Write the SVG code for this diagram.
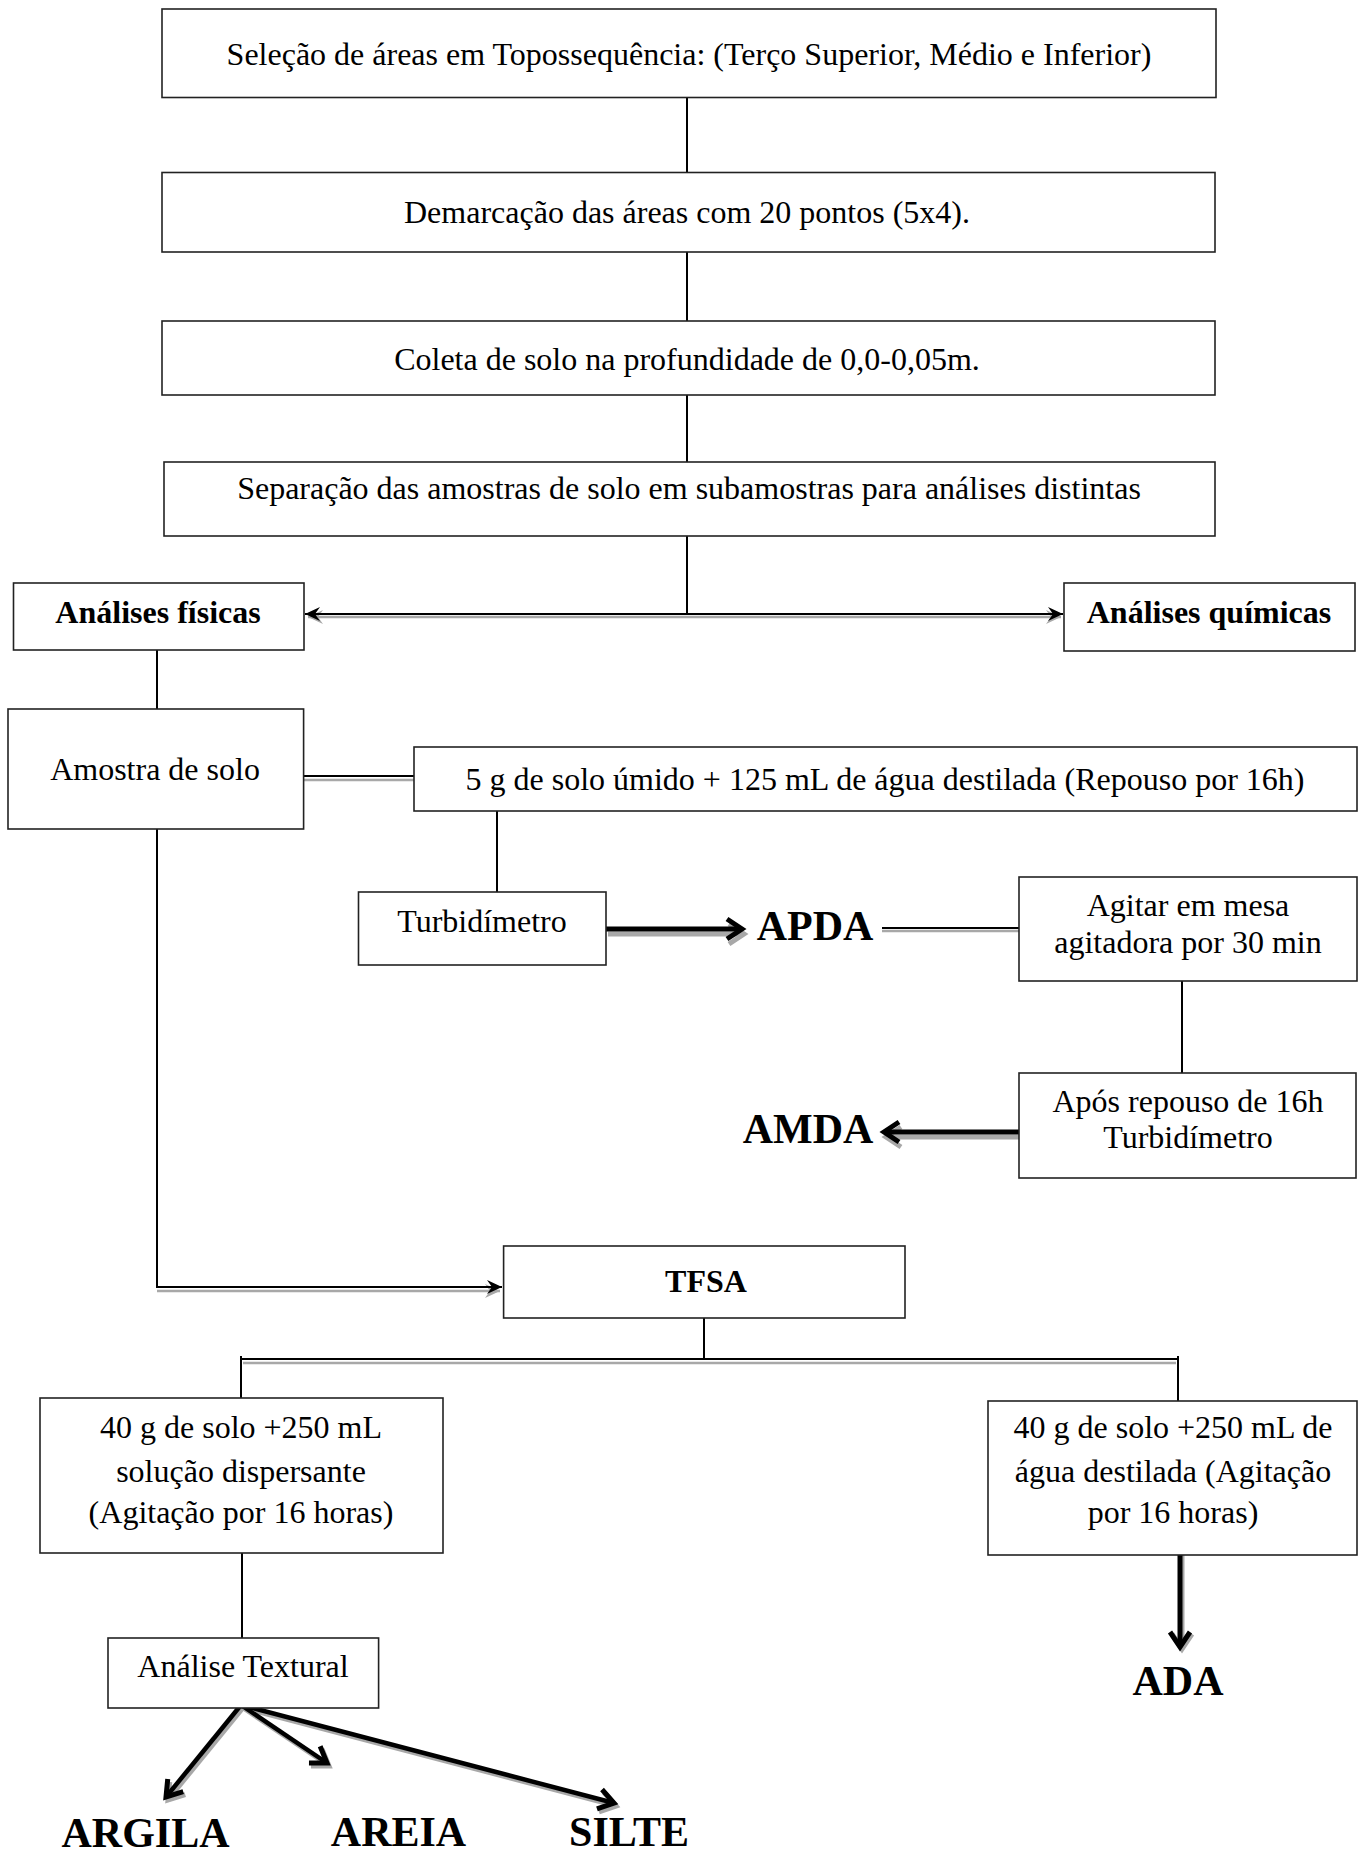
<svg xmlns="http://www.w3.org/2000/svg" width="1362" height="1854" viewBox="0 0 1362 1854">
<defs>
<style>
.box{fill:#fff;stroke:#222;stroke-width:1.6}
.t{font-family:"Liberation Serif","Times New Roman",serif;font-size:32px;fill:#000;text-anchor:middle}
.b{font-weight:bold}
.big{font-size:42px;font-weight:bold}
.ln{stroke:#000;stroke-width:2;fill:none}
.sh{stroke:#a8a8a8;stroke-width:2.5;fill:none}
.thick{stroke:#000;stroke-width:5;fill:none}
.thicksh{stroke:#a8a8a8;stroke-width:5;fill:none}
.diag{stroke:#000;stroke-width:4.5;fill:none}
.diagsh{stroke:#a8a8a8;stroke-width:4.5;fill:none}
</style>
<marker id="ah" markerUnits="userSpaceOnUse" markerWidth="16" markerHeight="16" viewBox="0 0 16 16" refX="15" refY="8" orient="auto">
<path d="M0,1 L15,8 L0,15 L5,8 z" fill="#000"/>
</marker>
<marker id="ahsh" markerUnits="userSpaceOnUse" markerWidth="16" markerHeight="16" viewBox="0 0 16 16" refX="15" refY="8" orient="auto">
<path d="M0,1 L15,8 L0,15 L5,8 z" fill="#a8a8a8"/>
</marker>
<marker id="chev" markerUnits="userSpaceOnUse" markerWidth="26" markerHeight="26" viewBox="0 0 26 26" refX="21" refY="13" orient="auto">
<path d="M6,3 L21,13 L6,23" fill="none" stroke="#000" stroke-width="5"/>
</marker>
<marker id="chevsh" markerUnits="userSpaceOnUse" markerWidth="26" markerHeight="26" viewBox="0 0 26 26" refX="21" refY="13" orient="auto">
<path d="M6,3 L21,13 L6,23" fill="none" stroke="#a8a8a8" stroke-width="5"/>
</marker>
</defs>
<rect width="1362" height="1854" fill="#fff"/>

<g id="connectors">
<path class="ln" d="M687,97 V172"/>
<path class="ln" d="M687,252 V321"/>
<path class="ln" d="M687,395 V462"/>
<path class="ln" d="M687,536 V614"/>
<path class="sh" d="M687,617 H308" marker-end="url(#ahsh)"/>
<path class="sh" d="M687,617 H1061" marker-end="url(#ahsh)"/>
<path class="ln" d="M687,614 H305" marker-end="url(#ah)"/>
<path class="ln" d="M687,614 H1063" marker-end="url(#ah)"/>
<path class="ln" d="M157,650 V709"/>
<path class="sh" d="M304,780 H414"/>
<path class="ln" d="M304,776 H414"/>
<path class="ln" d="M497,811 V892"/>
<path class="thicksh" d="M608,934 H744" marker-end="url(#chevsh)"/>
<path class="thick" d="M606,929 H742" marker-end="url(#chev)"/>
<path class="sh" d="M882,931 H1019"/>
<path class="ln" d="M882,928 H1019"/>
<path class="ln" d="M1182,981 V1073"/>
<path class="thicksh" d="M1019,1137 H886" marker-end="url(#chevsh)"/>
<path class="thick" d="M1019,1132 H884" marker-end="url(#chev)"/>
<path class="sh" d="M157,1291 H500" marker-end="url(#ahsh)"/>
<path class="ln" d="M157,829 V1287 H502" marker-end="url(#ah)"/>
<path class="ln" d="M704,1318 V1359"/>
<path class="sh" d="M243,1363 H1176"/>
<path class="ln" d="M241,1359 H1178"/>
<path class="ln" d="M241,1356 V1398"/>
<path class="ln" d="M1178,1356 V1401"/>
<path class="ln" d="M242,1553 V1638"/>
<path class="diagsh" d="M243,1708 L168,1800" marker-end="url(#chevsh)"/>
<path class="diagsh" d="M243,1708 L329,1766" marker-end="url(#chevsh)"/>
<path class="diagsh" d="M243,1708 L616,1806" marker-end="url(#chevsh)"/>
<path class="diag" d="M241,1705 L166,1797" marker-end="url(#chev)"/>
<path class="diag" d="M241,1705 L327,1763" marker-end="url(#chev)"/>
<path class="diag" d="M241,1705 L614,1803" marker-end="url(#chev)"/>
<path class="thicksh" d="M1182,1555 V1649" marker-end="url(#chevsh)"/>
<path class="thick" d="M1180,1555 V1647" marker-end="url(#chev)"/>
</g>

<g id="n-selecao"><rect class="box" x="162" y="9" width="1054" height="88.5"/>
<text class="t" x="689" y="65">Seleção de áreas em Topossequência: (Terço Superior, Médio e Inferior)</text></g>
<g id="n-demarcacao"><rect class="box" x="162" y="172.5" width="1053" height="79.5"/>
<text class="t" x="687" y="223">Demarcação das áreas com 20 pontos (5x4).</text></g>
<g id="n-coleta"><rect class="box" x="162" y="321" width="1053" height="74"/>
<text class="t" x="687" y="370">Coleta de solo na profundidade de 0,0-0,05m.</text></g>
<g id="n-separacao"><rect class="box" x="164" y="462" width="1051" height="74"/>
<text class="t" x="689" y="499">Separação das amostras de solo em subamostras para análises distintas</text></g>
<g id="n-fisicas"><rect class="box" x="13.5" y="583" width="290.5" height="67"/>
<text class="t b" x="158" y="623">Análises físicas</text></g>
<g id="n-quimicas"><rect class="box" x="1064" y="583" width="291" height="68"/>
<text class="t b" x="1209" y="623">Análises químicas</text></g>
<g id="n-amostra"><rect class="box" x="8" y="709" width="295.6" height="120"/>
<text class="t" x="155" y="780">Amostra de solo</text></g>
<g id="n-5g"><rect class="box" x="414" y="747" width="943" height="64"/>
<text class="t" x="885" y="790">5 g de solo úmido + 125 mL de água destilada (Repouso por 16h)</text></g>
<g id="n-turb"><rect class="box" x="358.5" y="892" width="247.5" height="73"/>
<text class="t" x="482" y="932">Turbidímetro</text></g>
<g id="n-apda"><text class="t big" x="815" y="940">APDA</text></g>
<g id="n-agitar"><rect class="box" x="1019" y="877" width="338" height="104"/>
<text class="t" x="1188" y="916">Agitar em mesa</text>
<text class="t" x="1188" y="953">agitadora por 30 min</text></g>
<g id="n-apos"><rect class="box" x="1019" y="1073" width="337" height="105"/>
<text class="t" x="1188" y="1112">Após repouso de 16h</text>
<text class="t" x="1188" y="1148">Turbidímetro</text></g>
<g id="n-amda"><text class="t big" x="808" y="1143">AMDA</text></g>
<g id="n-tfsa"><rect class="box" x="503.6" y="1246" width="401.4" height="72"/>
<text class="t b" x="706" y="1292">TFSA</text></g>
<g id="n-dispersante"><rect class="box" x="40" y="1398" width="403" height="155"/>
<text class="t" x="241" y="1438">40 g de solo +250 mL</text>
<text class="t" x="241" y="1482">solução dispersante</text>
<text class="t" x="241" y="1523">(Agitação por 16 horas)</text></g>
<g id="n-agua"><rect class="box" x="988" y="1401" width="369" height="154"/>
<text class="t" x="1173" y="1438">40 g de solo +250 mL de</text>
<text class="t" x="1173" y="1482">água destilada (Agitação</text>
<text class="t" x="1173" y="1523">por 16 horas)</text></g>
<g id="n-textural"><rect class="box" x="108" y="1638" width="270.6" height="70"/>
<text class="t" x="243" y="1677">Análise Textural</text></g>
<g id="n-ada"><text class="t big" x="1178" y="1695">ADA</text></g>
<g id="n-argila"><text class="t big" x="145.5" y="1847">ARGILA</text></g>
<g id="n-areia"><text class="t big" x="398.5" y="1846">AREIA</text></g>
<g id="n-silte"><text class="t big" x="629" y="1846">SILTE</text></g>
</svg>
